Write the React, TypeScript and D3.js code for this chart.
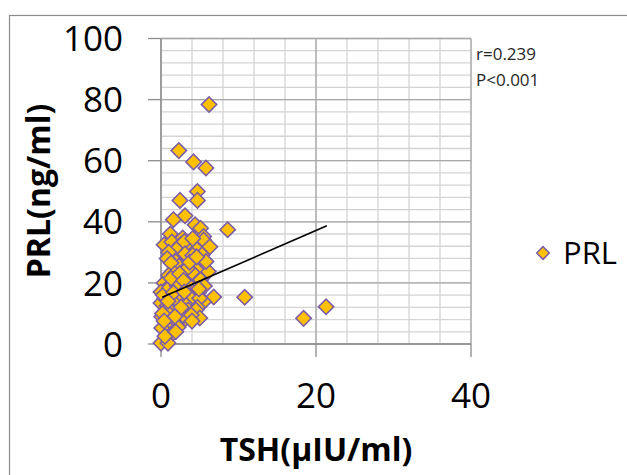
import * as d3 from 'd3';

// TSH (x) vs PRL (y)
const tshValues = [
  6.2, 2.3, 4.2, 5.8, 4.7, 4.7, 2.45, 3.1, 1.6, 8.6, 4.4, 5.1, 1.2, 2.8, 5.5,
  10.8, 18.4, 21.3,
  0.4, 1.4, 2.5, 3.7, 5.5, 6.3, 2.0, 3.0, 4.6, 1.0, 4.1,
  2.7, 5.3, 1.9, 3.5, 5.0, 1.7, 5.3, 6.1, 0.8, 2.3, 4.2, 3.1, 4.5, 1.3, 5.8, 2.9,
  3.2, 0.4, 2.2, 4.8, 1.0, 2.0, 3.8, 4.4, 1.5, 2.7, 3.5, 5.1, 0.7, 4.0, 1.8, 5.6,
  0.0, 6.8, 5.5, 1.9, 0.0, 1.2, 2.8, 3.6, 4.3, 0.5, 2.4, 3.9, 5.0, 1.5, 0.8, 3.2, 4.7,
  3.5, 4.5, 0.1, 1.7, 3.0, 5.0, 0.6, 1.4, 2.3, 2.6, 3.9, 1.0, 4.0, 2.0,
  1.2, 0.1, 0.0, 0.9, 1.6, 0.5, 2.2, 1.9,
  0.3, 1.1, 2.1, 3.3, 4.9, 0.6, 1.6, 2.6, 3.4, 4.1, 0.2, 1.3, 2.4, 3.7, 0.9, 2.9, 4.6, 1.8, 3.0, 0.4,
];
const prlValues = [
  78.4, 63.3, 59.6, 57.6, 49.9, 47.0, 47.0, 42.0, 40.7, 37.4, 39.0, 37.9, 36.0, 34.7, 35.2,
  15.3, 8.4, 12.2,
  32.5, 33.4, 32.5, 32.2, 34.0, 31.8, 31.0, 33.5, 31.0, 30.0, 34.5,
  28.5, 29.2, 27.0, 26.0, 25.3, 24.3, 23.7, 23.7, 28.0, 25.5, 27.8, 29.5, 24.5, 26.5, 27.0, 24.0,
  21.0, 20.0, 17.7, 16.7, 22.5, 20.5, 22.5, 19.5, 19.0, 22.0, 18.5, 21.0, 18.0, 23.5, 23.0, 19.0,
  17.0, 15.4, 13.8, 12.8, 13.4, 15.5, 14.5, 16.0, 13.5, 15.0, 16.5, 14.8, 15.0, 14.0, 12.5, 12.8, 12.0,
  11.1, 11.1, 8.9, 7.2, 7.9, 8.5, 10.5, 9.8, 10.5, 8.8, 9.5, 11.5, 7.5, 6.5,
  4.6, 5.2, 0.3, 0.3, 3.8, 2.5, 5.5, 4.0,
  16.0, 18.5, 19.0, 20.0, 18.0, 11.0, 16.8, 12.0, 24.8, 29.0, 10.0, 21.5, 23.0, 26.8, 14.0, 20.8, 28.5, 9.0, 17.0, 7.5,
];

// linear trendline end points
const trendX = [0.15, 21.4];
const trendY = [15.3, 38.7];

const xTicks = [0, 20, 40];
const yTicks = [0, 20, 40, 60, 80, 100];
const statLines = ['r=0.239', 'P<0.001'];
const seriesName = 'PRL';

export default function App() {
  const width = 627;
  const height = 475;

  const x = d3.scaleLinear().domain([0, 40]).range([161, 471]);
  const y = d3.scaleLinear().domain([0, 100]).range([344, 38.5]);

  const minorX = d3.range(0, 41, 4);
  const minorY = d3.range(0, 101, 4);

  const diamond = d3.symbol(d3.symbolSquare, 118)();
  const legendDiamond = d3.symbol(d3.symbolSquare, 80)();

  const points = tshValues.map((t, i) => ({ t, p: prlValues[i] }));
  const trend = d3.line<number>()
    .x(d => x(d))
    .y((_, i) => y(trendY[i]));

  const font = '"Open Sans", sans-serif';

  return (
    <div style={{ position: 'absolute', left: 0, top: 0 }}>
      <svg width={width} height={height} style={{ display: 'block', background: '#fff' }}>
        <rect x={9.5} y={15.5} width={700} height={500} fill="#fff" stroke="#8c8c8c" strokeWidth={1.2} />

        {/* minor gridlines */}
        <g stroke="#d4d4d4" strokeWidth={1.3}>
          {minorY.map(v => (
            <line key={'my' + v} x1={x(0)} x2={x(40)} y1={y(v)} y2={y(v)} />
          ))}
          {minorX.map(v => (
            <line key={'mx' + v} x1={x(v)} x2={x(v)} y1={y(0)} y2={y(100)} />
          ))}
        </g>

        {/* major gridlines */}
        <g stroke="#a8a8a8" strokeWidth={1.3}>
          {yTicks.map(v => (
            <line key={'gy' + v} x1={x(0)} x2={x(40)} y1={y(v)} y2={y(v)} />
          ))}
          {xTicks.map(v => (
            <line key={'gx' + v} x1={x(v)} x2={x(v)} y1={y(0)} y2={y(100)} />
          ))}
        </g>

        {/* axes + ticks */}
        <g stroke="#8c8c8c" strokeWidth={1.3}>
          <line x1={x(0)} x2={x(40)} y1={y(0)} y2={y(0)} />
          <line x1={x(0)} x2={x(0)} y1={y(0)} y2={y(100)} />
          {yTicks.map(v => (
            <line key={'ty' + v} x1={x(0) - 13} x2={x(0)} y1={y(v)} y2={y(v)} />
          ))}
          {xTicks.map(v => (
            <line key={'tx' + v} x1={x(v)} x2={x(v)} y1={y(0)} y2={y(0) + 13} />
          ))}
        </g>

        <g fontFamily={font} fontSize={35} fill="#000">
          {yTicks.map(v => (
            <text key={'ly' + v} x={123} y={y(v)} dy="0.36em" textAnchor="end">{v}</text>
          ))}
          {xTicks.map(v => (
            <text key={'lx' + v} x={x(v)} y={408} textAnchor="middle">{v}</text>
          ))}
        </g>

        {/* points */}
        <g fill="#FFC000" stroke="#7B5EA7" strokeWidth={1.6}>
          {points.map((d, i) => (
            <path key={i} d={diamond} transform={`translate(${x(d.t)},${y(d.p)}) rotate(45)`} />
          ))}
        </g>

        <path d={trend(trendX) ?? ''} fill="none" stroke="#000" strokeWidth={1.6} />

        <g fontFamily={font} fontSize={17} fill="#262626">
          {statLines.map((s, i) => (
            <text key={s} x={476} y={60 + i * 26}>{s}</text>
          ))}
        </g>

        {/* legend */}
        <path d={legendDiamond} transform="translate(543,253) rotate(45)" fill="#FFC000" stroke="#7B5EA7" strokeWidth={1.5} />
        <text x={563} y={264} fontFamily={font} fontSize={31} fill="#000">{seriesName}</text>

        {/* axis titles */}
        <text x={316} y={461} textAnchor="middle" fontFamily={font} fontSize={32} fontWeight="bold" fill="#000">
          TSH(μIU/ml)
        </text>
        <text transform="translate(50,191) rotate(-90)" textAnchor="middle" fontFamily={font} fontSize={32} fontWeight="bold" fill="#000">
          PRL(ng/ml)
        </text>
      </svg>
    </div>
  );
}
